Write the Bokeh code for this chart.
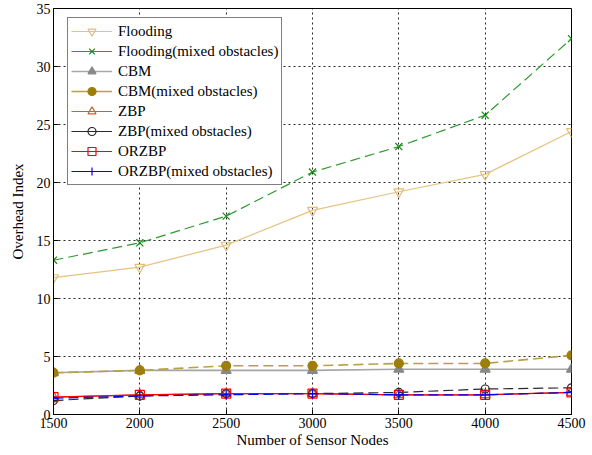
from bokeh.plotting import figure
from bokeh.embed import file_html
from bokeh.resources import INLINE
from bokeh.models import Legend, LegendItem, FixedTicker

nodes = [1500, 2000, 2500, 3000, 3500, 4000, 4500]
flooding = [11.8, 12.7, 14.6, 17.6, 19.2, 20.7, 24.4]
flooding_mixed = [13.3, 14.8, 17.1, 20.9, 23.1, 25.8, 32.4]
cbm = [3.6, 3.8, 3.8, 3.8, 3.9, 3.9, 3.9]
cbm_mixed = [3.6, 3.8, 4.2, 4.2, 4.4, 4.4, 5.1]
zbp = [1.5, 1.7, 1.8, 1.8, 1.7, 1.7, 1.9]
zbp_mixed = [1.2, 1.6, 1.8, 1.8, 1.9, 2.2, 2.3]
orzbp = [1.5, 1.7, 1.8, 1.8, 1.7, 1.7, 1.9]
orzbp_mixed = [1.4, 1.6, 1.7, 1.8, 1.7, 1.7, 1.9]
x_ticks = [1500, 2000, 2500, 3000, 3500, 4000, 4500]
y_ticks = [0, 5, 10, 15, 20, 25, 30, 35]

FONT = "'Liberation Serif', 'Times New Roman', serif"
NAN = float("nan")

p = figure(width=592, height=455, output_backend="svg", toolbar_location=None,
           x_range=(1500, 4500), y_range=(0, 35),
           min_border_left=53, min_border_right=21, min_border_top=8, min_border_bottom=41,
           x_axis_label="Number of Sensor Nodes", y_axis_label="Overhead Index")
p.background_fill_color = "white"
p.border_fill_color = "white"
p.outline_line_color = "black"
p.outline_line_width = 1
p.outline_line_alpha = 1

for ax in (p.xaxis[0], p.yaxis[0]):
    ax.axis_line_color = "black"
    ax.major_tick_in = 5
    ax.major_tick_out = 0
    ax.minor_tick_line_color = None
    ax.major_label_text_font = FONT
    ax.major_label_text_font_size = "14px"
    ax.major_label_text_color = "black"
    ax.axis_label_text_font = FONT
    ax.axis_label_text_font_size = "15px"
    ax.axis_label_text_font_style = "normal"
    ax.axis_label_text_color = "black"
    ax.major_label_standoff = 3
p.xaxis[0].ticker = FixedTicker(ticks=x_ticks)
p.yaxis[0].ticker = FixedTicker(ticks=y_ticks)
p.xaxis[0].axis_label_standoff = 1
p.yaxis[0].axis_label_standoff = 8

for g in (p.xgrid[0], p.ygrid[0]):
    g.grid_line_color = "black"
    g.grid_line_dash = "2 3"
    g.grid_line_alpha = 0.85
    g.grid_line_width = 1

items = []

def series(y, label, color, dash, marker, mcolor, fill, size, lw=1.2):
    p.line(nodes, y, line_color=color, line_width=lw, line_dash=dash)
    fc = mcolor if fill else None
    p.scatter(nodes, y, marker=marker, size=size, line_color=mcolor, line_width=1.2, fill_color=fc)
    # legend proxies with a solid line, as in the reference legend (NaN -> not drawn in plot)
    l1 = p.line(nodes[:2], [NAN, NAN], line_color=color, line_width=lw)
    l2 = p.scatter(nodes[:1], [NAN], marker=marker, size=size, line_color=mcolor,
                   line_width=1.2, fill_color=fc)
    items.append(LegendItem(label=label, renderers=[l1, l2]))

series(flooding, "Flooding", "#E6C283", "solid", "inverted_triangle", "#E3BD78", False, 10)
series(flooding_mixed, "Flooding(mixed obstacles)", "#2E9A2E", "10 5", "x", "#138A13", False, 10)
series(cbm, "CBM", "#A6A6A6", "solid", "triangle", "#888888", True, 10, lw=1.6)
series(cbm_mixed, "CBM(mixed obstacles)", "#B9A040", "10 5", "circle", "#9C7E08", True, 9, lw=1.6)
series(zbp, "ZBP", "#C2642E", "solid", "triangle", "#C2642E", False, 10)
series(zbp_mixed, "ZBP(mixed obstacles)", "#2a2a2a", "10 5", "circle", "#222222", False, 8)
series(orzbp, "ORZBP", "#FF0000", "solid", "square", "#FF0000", False, 9)
series(orzbp_mixed, "ORZBP(mixed obstacles)", "#0000FF", "10 5", "cross", "#0000FF", False, 10)

legend = Legend(items=items, location=(14, 229))
legend.border_line_color = "black"
legend.border_line_width = 1
legend.background_fill_color = "white"
legend.background_fill_alpha = 1
legend.label_text_font = FONT
legend.label_text_font_size = "15px"
legend.label_text_color = "black"
legend.glyph_width = 41
legend.glyph_height = 20
legend.label_height = 20
legend.spacing = 0
legend.padding = 3
legend.margin = 0
legend.label_standoff = 6
p.add_layout(legend, "center")

open("out.html", "w").write(file_html(p, INLINE))
